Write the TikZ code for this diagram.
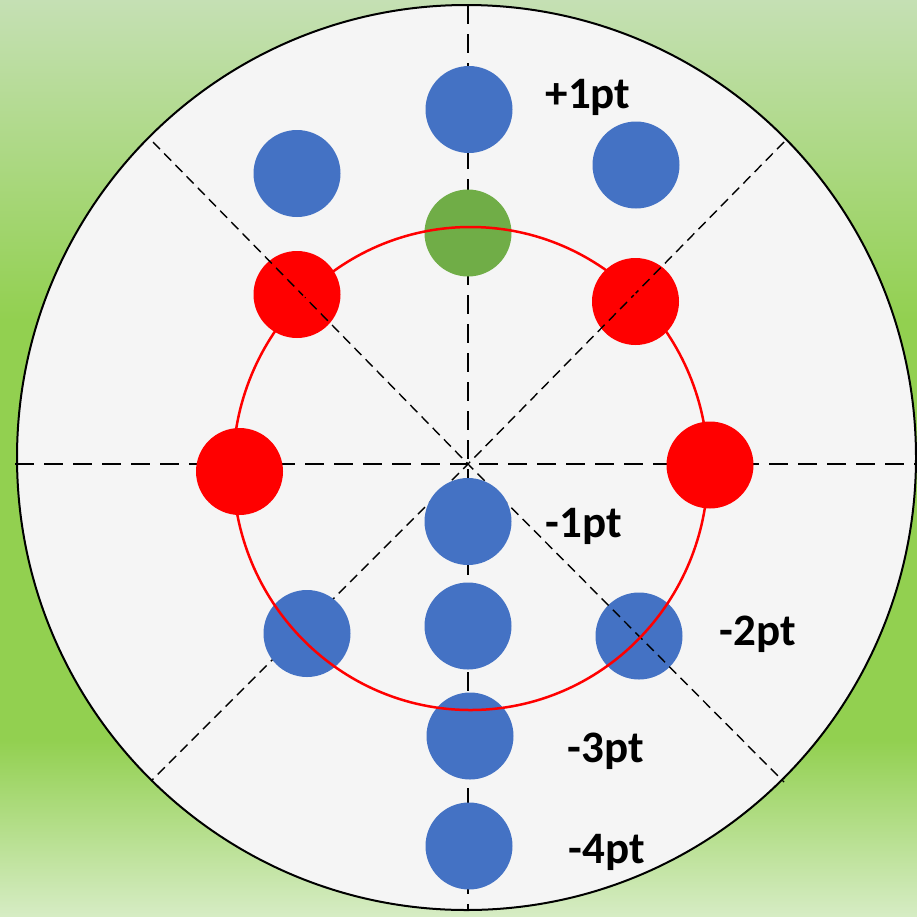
\documentclass[tikz,border=0pt]{standalone}
\usepackage{fontspec}
\setmainfont{Carlito}
\usepackage{xcolor}
\usepackage{tikz}
\definecolor{dotblue}{RGB}{68,114,196}
\definecolor{dotgreen}{RGB}{112,173,71}
\definecolor{bgtop}{RGB}{197,224,180}
\definecolor{bgmid}{RGB}{146,208,80}
\definecolor{bgbot}{RGB}{214,236,196}
\definecolor{target}{RGB}{245,245,245}

\begin{document}
\begin{tikzpicture}[x=1pt,y=-1pt,
  dot/.style={circle,minimum size=87pt,inner sep=0pt},
  bluedot/.style={dot,fill=dotblue},
  reddot/.style={dot,fill=red},
  greendot/.style={dot,fill=dotgreen},
  axis/.style={line width=2.8pt,dash pattern=on 19pt off 10pt},
  diag/.style={line width=1.4pt,dash pattern=on 10pt off 6pt},
  ptlabel/.style={anchor=base,inner sep=0pt,font=\fontsize{45}{54}\selectfont\bfseries}]
\useasboundingbox (0,0) rectangle (917,916);
\shade[top color=bgtop,bottom color=bgmid] (0,0) rectangle (917,320.5);
\fill[bgmid] (0,320) rectangle (917,740.5);
\shade[top color=bgmid,bottom color=bgbot] (0,740) rectangle (917,916);
\filldraw[fill=target,draw=black,line width=2pt] (466.5,457.5) ellipse [x radius=449.5pt,y radius=452.5pt];
\coordinate (c) at (468,464);
\coordinate (n) at (468,5);
\coordinate (s) at (468,911);
\coordinate (w) at (15,464);
\coordinate (e) at (917,464);
\coordinate (nw) at (153,142);
\coordinate (ne) at (784,142);
\coordinate (sw) at (151,781);
\coordinate (se) at (784,782);
\draw[axis] (n) -- (s);
\draw[axis] (w) -- (e);
% dots below the diagonals
\node[reddot] (ul) at (297,294.5) {};
\node[reddot] (ur) at (635.5,301.5) {};
\node[bluedot] (m2) at (639,636) {};
\draw[diag] (nw) -- (c) -- (se);
\draw[diag] (ne) -- (c) -- (sw);
% the other dots
\node[bluedot] (p1) at (469,109.5) {};
\node[bluedot] (pl) at (297,173.5) {};
\node[bluedot] (pr) at (636,165) {};
\node[greendot] (g) at (468,233) {};
\node[reddot] (l) at (239.5,471.5) {};
\node[reddot] (r) at (710,465) {};
\node[bluedot] (m1) at (468,521.5) {};
\node[bluedot] (mm) at (468,626) {};
\node[bluedot] (ll) at (307,633.5) {};
\node[bluedot] (m3) at (470,736) {};
\node[bluedot] (m4) at (469,846) {};
\draw[red,line width=2.5pt] (470.5,468.5) ellipse [x radius=237.5pt,y radius=241.5pt];
\node[ptlabel] (t1) at (588,108) {+1pt};
\node[ptlabel] (t2) at (584,537) {-1pt};
\node[ptlabel] (t3) at (758,645) {-2pt};
\node[ptlabel] (t4) at (606,762) {-3pt};
\node[ptlabel] (t5) at (607,863) {-4pt};
\end{tikzpicture}
\end{document}
